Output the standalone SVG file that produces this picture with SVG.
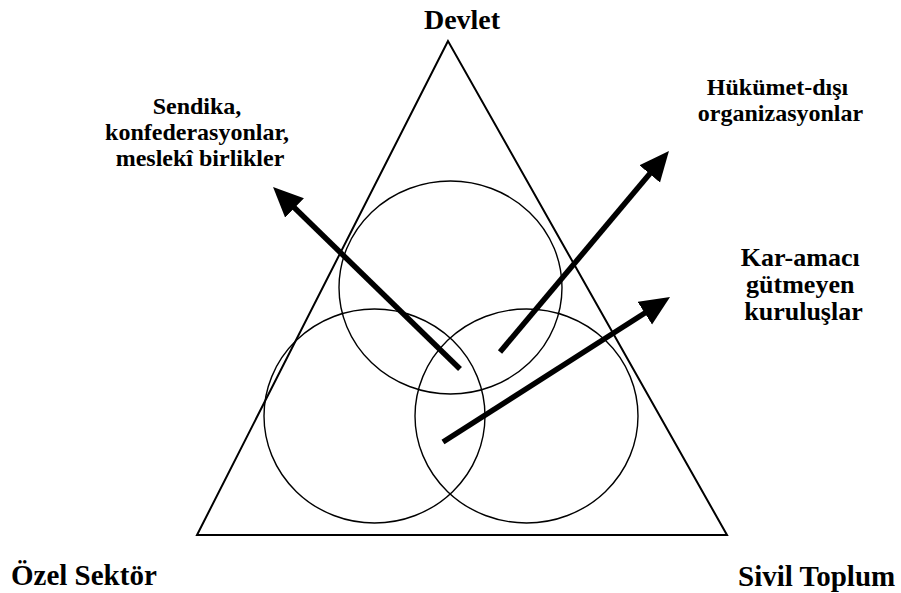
<svg xmlns="http://www.w3.org/2000/svg" width="901" height="593" viewBox="0 0 901 593">
<style>
  .lbl { font-family: "Liberation Serif", "Times New Roman", serif; font-weight: bold; fill: #000; }
  .tri { fill: none; stroke: #000; stroke-width: 2; stroke-linejoin: miter; }
  .circ { fill: none; stroke: #000; stroke-width: 1.4; }
  .arrow { fill: none; stroke: #000; stroke-width: 5.5; marker-end: url(#head); }
</style>
<defs>
  <marker id="head" markerUnits="userSpaceOnUse" markerWidth="32" markerHeight="28" refX="8" refY="13.5" orient="auto" viewBox="0 0 32 28">
    <path d="M0,0 L30,13.5 L0,27 Z" fill="#000"/>
  </marker>
</defs>
<rect width="901" height="593" fill="#fff"/>

<g id="triangle">
  <polygon class="tri" points="448,41 197,535 727,535"/>
</g>

<g id="circle-top">
  <ellipse class="circ" cx="450.5" cy="287.5" rx="111.5" ry="106.5"/>
</g>
<g id="circle-left">
  <ellipse class="circ" cx="374.5" cy="416" rx="110.5" ry="107"/>
</g>
<g id="circle-right">
  <ellipse class="circ" cx="526.5" cy="416" rx="111.5" ry="107"/>
</g>

<g id="connectors">
  <line class="arrow" x1="460" y1="369" x2="288.8" y2="202.3"/>
  <line class="arrow" x1="500" y1="352" x2="654.8" y2="167.8"/>
  <line class="arrow" x1="443" y1="442" x2="651.5" y2="308.8"/>
</g>

<g id="node-devlet">
  <text class="lbl" x="462" y="29" font-size="28" text-anchor="middle">Devlet</text>
</g>
<g id="node-ozel">
  <text class="lbl" x="11" y="585" font-size="29">Özel Sektör</text>
</g>
<g id="node-sivil">
  <text class="lbl" x="738" y="586" font-size="29">Sivil Toplum</text>
</g>
<g id="node-sendika">
  <text class="lbl" font-size="24" text-anchor="middle">
    <tspan x="200" y="114">Sendika,</tspan>
    <tspan x="200" y="140">konfederasyonlar,</tspan>
    <tspan x="200" y="166">meslekî birlikler</tspan>
  </text>
</g>
<g id="node-hukumet">
  <text class="lbl" font-size="24" text-anchor="middle">
    <tspan x="780.5" y="95">Hükümet-dışı</tspan>
    <tspan x="780.5" y="121">organizasyonlar</tspan>
  </text>
</g>
<g id="node-kar">
  <text class="lbl" font-size="26" text-anchor="middle">
    <tspan x="803.5" y="266">Kar-amacı</tspan>
    <tspan x="803.5" y="293">gütmeyen</tspan>
    <tspan x="803.5" y="320">kuruluşlar</tspan>
  </text>
</g>
</svg>
